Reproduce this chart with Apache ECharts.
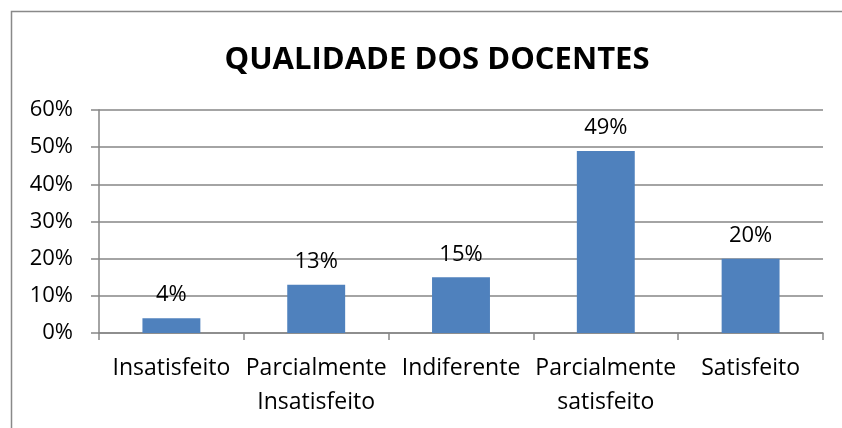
<!DOCTYPE html>
<html>
<head>
<meta charset="utf-8">
<script src="https://cdn.jsdelivr.net/npm/echarts@6/dist/echarts.min.js"></script>
<style>html,body{margin:0;padding:0;background:#fff}#c{width:842px;height:428px}</style>
</head>
<body>
<div id="c"></div>
<script>
const categories = ['Insatisfeito', 'Parcialmente\nInsatisfeito', 'Indiferente', 'Parcialmente\nsatisfeito', 'Satisfeito'];
const values = [4, 13, 15, 49, 20];
const yTicks = [0, 10, 20, 30, 40, 50, 60];
const titleText = 'QUALIDADE DOS DOCENTES';

const FONT = 'Open Sans';
const chart = echarts.init(document.getElementById('c'), null, {renderer: 'canvas'});
chart.setOption({
  animation: false,
  backgroundColor: '#fff',
  title: {
    text: titleText,
    left: 432, top: 55, textAlign: 'center', textVerticalAlign: 'middle',
    textStyle: {fontFamily: FONT, fontWeight: 'bold', fontSize: 31, color: '#000'}
  },
  graphic: [{
    type: 'rect', silent: true,
    shape: {x: 11.5, y: 11.5, width: 900, height: 500},
    style: {fill: 'none', stroke: '#898989', lineWidth: 1.5}
  }],
  grid: {left: 99, right: 19, top: 110, bottom: 95, containLabel: false},
  xAxis: {
    type: 'category', data: categories,
    axisLine: {lineStyle: {color: '#868686', width: 1.5}},
    axisTick: {show: true, length: 7, lineStyle: {color: '#868686', width: 1.5}},
    axisLabel: {fontFamily: FONT, fontSize: 23, color: '#000', margin: 18, lineHeight: 34, interval: 0}
  },
  yAxis: {
    type: 'value', min: yTicks[0], max: yTicks[yTicks.length - 1], interval: 10,
    axisLine: {show: true, lineStyle: {color: '#868686', width: 1.5}},
    axisTick: {show: true, length: 8, lineStyle: {color: '#868686', width: 1.5}},
    splitLine: {lineStyle: {color: '#868686', width: 1.5}},
    axisLabel: {fontFamily: FONT, fontSize: 22, color: '#000', margin: 26, formatter: v => v + '%'}
  },
  series: [{
    type: 'bar', data: values, barWidth: '40%',
    itemStyle: {color: '#4F81BD'},
    label: {show: true, position: 'top', distance: 12, fontFamily: FONT, fontSize: 22, color: '#000', formatter: p => p.value + '%'}
  }]
});
</script>
</body>
</html>
